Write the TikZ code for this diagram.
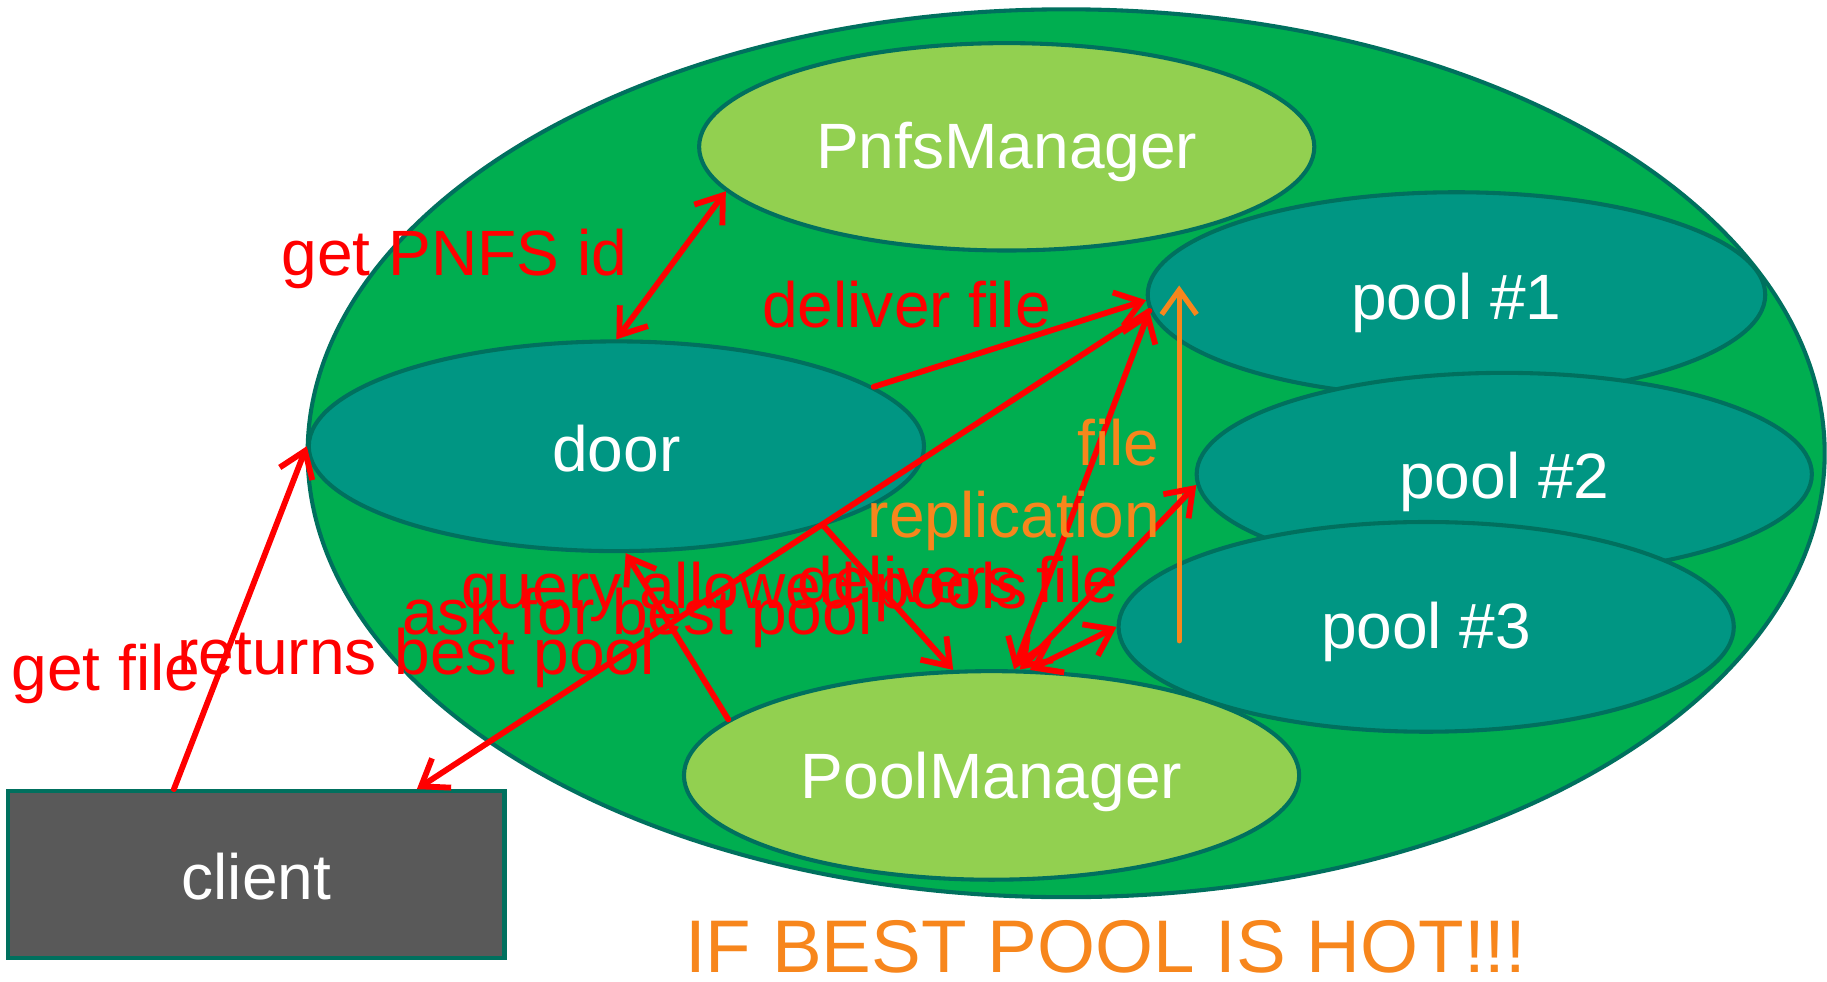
\documentclass[tikz,border=0pt]{standalone}
\usepackage{fontspec}
\setmainfont{Liberation Sans}
\usetikzlibrary{arrows.meta,shapes.geometric}

\definecolor{sysgreen}{RGB}{0,174,80}
\definecolor{lightgreen}{RGB}{146,208,80}
\definecolor{cellteal}{RGB}{0,150,131}
\definecolor{edgeteal}{RGB}{0,112,94}
\definecolor{clientgrey}{RGB}{89,89,89}
\definecolor{msgred}{RGB}{255,0,0}
\definecolor{hotorange}{RGB}{247,134,28}

% lower a cell caption by #1 without changing the size of its box
\newcommand{\sunk}[2]{\raisebox{-#1}[\height][\depth]{#2}}

\begin{document}
\begin{tikzpicture}[x=1pt,y=-1pt,
  bigfont/.style={font=\fontsize{55}{60}\selectfont},
  cell/.style={ellipse, draw=edgeteal, line width=3.5pt, inner sep=0pt,
    text=white, bigfont},
  barb/.style={arrows={-Straight Barb[length=21pt,width=30pt]}},
  both/.style={arrows={Straight Barb[length=21pt,width=30pt]-Straight Barb[length=21pt,width=30pt]}},
  msg/.style={draw=msgred, line width=5pt, line cap=round, line join=round, barb},
  repl/.style={draw=hotorange, line width=4.5pt, line cap=round, line join=round, barb},
  lbl/.style={text=msgred, inner sep=0pt, bigfont},
  olbl/.style={text=hotorange, inner sep=0pt, bigfont}]

% canvas
\fill[white] (0,0) rectangle (1568,842);
\useasboundingbox (0,0) rectangle (1568,842);

% the dCache system
\node[ellipse, draw=edgeteal, fill=sysgreen, line width=3.5pt,
  minimum width=1302pt, minimum height=762pt] (system) at (915,389) {};

% cells
\node[cell, fill=lightgreen, minimum width=528pt, minimum height=178pt]
  (pnfs) at (864,126) {\sunk{4pt}{PnfsManager}};
\node[cell, fill=cellteal, minimum width=528pt, minimum height=180pt]
  (door) at (529,383) {\sunk{2pt}{door}};
\node[cell, fill=cellteal, minimum width=530pt, minimum height=176pt]
  (pool1) at (1250,253) {\sunk{7pt}{pool \#1}};
\node[cell, fill=cellteal, minimum width=528pt, minimum height=174pt]
  (pool2) at (1291,407) {\sunk{7pt}{pool \#2}};
\node[cell, fill=cellteal, minimum width=528pt, minimum height=180pt]
  (pool3) at (1224,538) {\sunk{4pt}{pool \#3}};
\node[cell, fill=lightgreen, minimum width=528pt, minimum height=179pt]
  (poolmgr) at (851,665.5) {\sunk{6pt}{PoolManager}};

% client
\node[rectangle, draw=edgeteal, fill=clientgrey, line width=3.5pt,
  minimum width=426pt, minimum height=143pt, text=white, bigfont]
  (client) at (220,750.5) {\sunk{2pt}{client}};

% replication between pools
\coordinate (replsrc) at (1012,550);
\coordinate (repldst) at (1012,245);
\draw[repl] (replsrc) -- (repldst);

% messages
\draw[msg, both] (door.north) -- (pnfs.189);
\draw[msg] (client.134) -- (door.west);
\draw[msg] (door.13) -- (pool1.181);
\draw[msg] (pool1.183) -- (client.28);
\draw[msg] (door.-21) -- (poolmgr.110);
\draw[msg] (poolmgr.168) -- (door.-85);
\draw[msg, both] (poolmgr.78) -- (pool1.183);
\draw[msg, both] (poolmgr.75) -- (pool2.182);
\draw[msg, both] (poolmgr.70) -- (pool3.west);

% labels
\node[lbl] (lgetid) at (390,222) {get PNFS id};
\node[lbl] (ldeliver) at (778,261) {deliver file};
\node[olbl] (lfile) at (960,380) {file};
\node[olbl] (lrepl) at (870,447) {replication};
\node[lbl] (lquery) at (639,508) {query allowed pools};
\node[lbl] (ldelivers) at (822,497) {delivers file};
\node[lbl] (lask) at (547,530) {ask for best pool};
\node[lbl] (lreturns) at (357,565) {returns best pool};
\node[lbl] (lgetfile) at (91,578) {get file};
\node[text=hotorange, inner sep=0pt, font=\fontsize{64}{70}\selectfont]
  (lhot) at (949,813) {IF BEST POOL IS HOT!!!};

\end{tikzpicture}
\end{document}
